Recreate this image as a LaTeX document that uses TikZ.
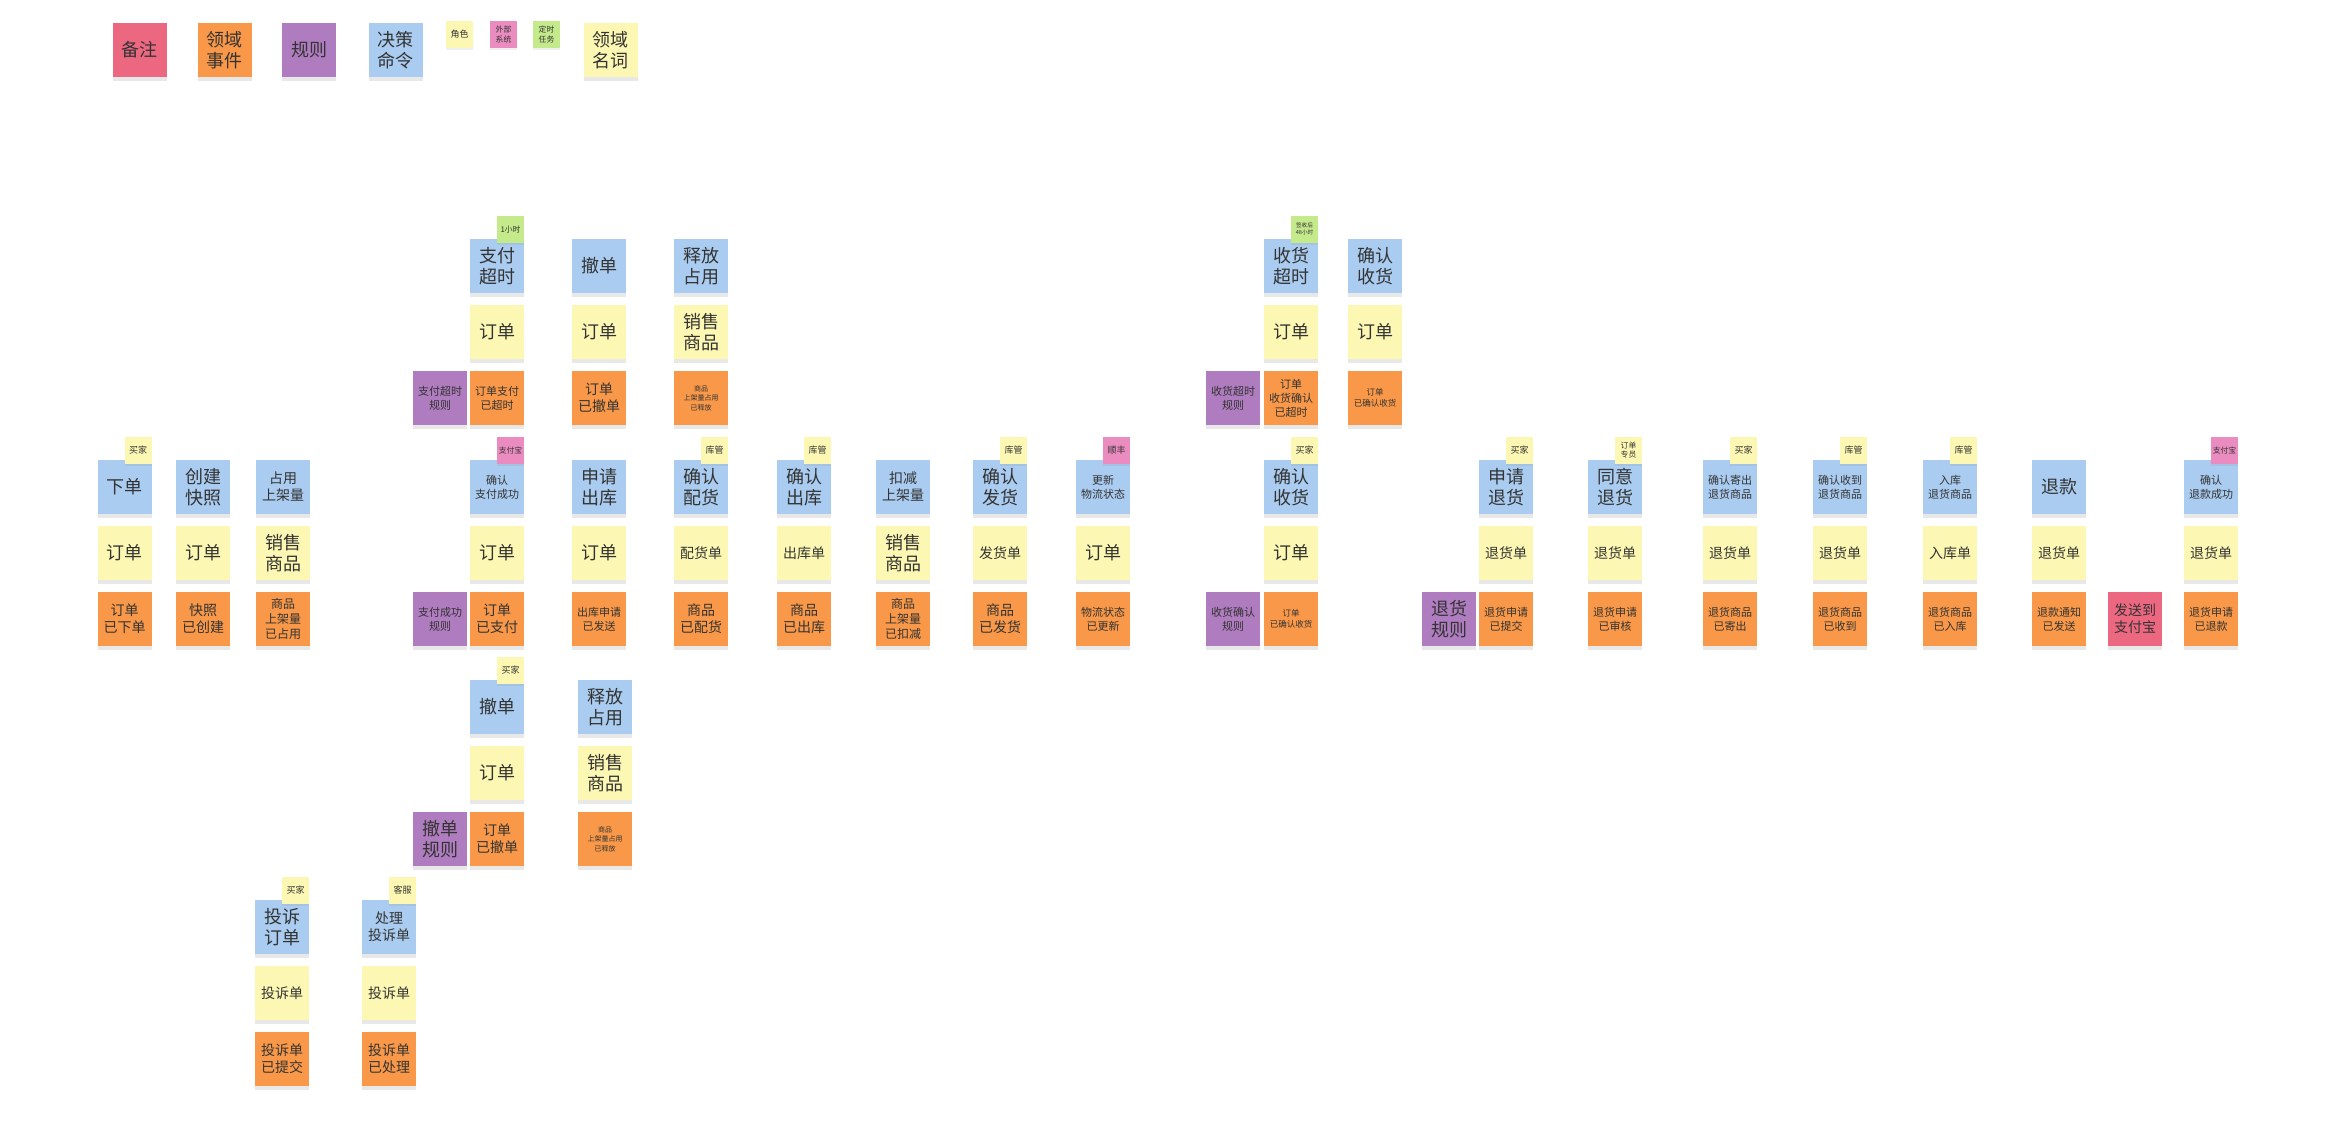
\documentclass[tikz,border=0pt]{standalone}
\usepackage{fontspec}
\setmainfont{Noto Sans CJK SC}
\usetikzlibrary{shadows}
\definecolor{cmdblue}{RGB}{170,204,240}
\definecolor{nounyellow}{RGB}{252,247,178}
\definecolor{evtorange}{RGB}{248,152,72}
\definecolor{rulepurple}{RGB}{176,124,192}
\definecolor{remarkpink}{RGB}{236,104,128}
\definecolor{syspink}{RGB}{234,140,192}
\definecolor{timegreen}{RGB}{196,234,140}
\begin{document}
\begin{tikzpicture}[x=1pt,y=-1pt,
  sticky/.style={minimum width=54pt,minimum height=54pt,inner sep=0pt,align=center,text=black!80,
    font=\fontsize{18}{21}\selectfont,drop shadow={shadow xshift=0pt,shadow yshift=-4pt,opacity=0.18}},
  cmdnote/.style={sticky,fill=cmdblue},
  nounnote/.style={sticky,fill=nounyellow},
  evtnote/.style={sticky,fill=evtorange},
  rulenote/.style={sticky,fill=rulepurple},
  remnote/.style={sticky,fill=remarkpink},
  tagnote/.style={minimum width=27pt,minimum height=27pt,inner sep=0pt,align=center,text=black!80,
    font=\fontsize{9}{10.5}\selectfont,drop shadow={shadow xshift=0pt,shadow yshift=-2pt,opacity=0.12}},
  roletag/.style={tagnote,fill=nounyellow,anchor=south east},
  systag/.style={tagnote,fill=syspink,anchor=south east},
  timetag/.style={tagnote,fill=timegreen,anchor=south east},
  fmid/.style={font=\fontsize{14}{17}\selectfont},
  fthree/.style={font=\fontsize{12}{15}\selectfont},
  fsm/.style={font=\fontsize{11}{14}\selectfont},
  fxs/.style={font=\fontsize{8.5}{11}\selectfont},
  fxxs/.style={font=\fontsize{7}{9.5}\selectfont},
  ftagsm/.style={font=\fontsize{7.8}{9.5}\selectfont},
  ftagxs/.style={font=\fontsize{5.6}{7}\selectfont}]
\fill[white] (0,0) rectangle (2330,1148);
\useasboundingbox (0,0) rectangle (2330,1148);

\node[remnote] (lgremark) at (139.5,50) {备注};
\node[evtnote] (lgevent) at (224.5,50) {领域\\事件};
\node[rulenote] (lgrule) at (309,50) {规则};
\node[cmdnote] (lgcmd) at (395.5,50) {决策\\命令};
\node[roletag,anchor=center] (lgrole) at (459.5,34.5) {角色};
\node[systag,ftagsm,anchor=center] (lgsys) at (503.5,34.5) {外部\\系统};
\node[timetag,ftagsm,anchor=center] (lgtimer) at (546.5,34.5) {定时\\任务};
\node[nounnote] (lgnoun) at (610.5,50) {领域\\名词};

\node[cmdnote] (cPayTimeout) at (497,266) {支付\\超时};
\node[nounnote] (nPayTimeout) at (497,332) {订单};
\node[evtnote,fsm] (ePayTimeout) at (497,398) {订单支付\\已超时};
\node[rulenote,fsm] (rPayTimeout) at (440,398) {支付超时\\规则};
\node[cmdnote] (cCancel) at (599,266) {撤单};
\node[nounnote] (nCancel) at (599,332) {订单};
\node[evtnote,fmid] (eCancel) at (599,398) {订单\\已撤单};
\node[cmdnote] (cRelease) at (701,266) {释放\\占用};
\node[nounnote] (nRelease) at (701,332) {销售\\商品};
\node[evtnote,fxxs] (eRelease) at (701,398) {商品\\上架量占用\\已释放};
\node[cmdnote] (cRecvTimeout) at (1291,266) {收货\\超时};
\node[nounnote] (nRecvTimeout) at (1291,332) {订单};
\node[evtnote,fsm] (eRecvTimeout) at (1291,398) {订单\\收货确认\\已超时};
\node[rulenote,fsm] (rRecvTimeout) at (1233,398) {收货超时\\规则};
\node[cmdnote] (cConfirmA) at (1375,266) {确认\\收货};
\node[nounnote] (nConfirmA) at (1375,332) {订单};
\node[evtnote,fxs] (eConfirmA) at (1375,398) {订单\\已确认收货};

\node[cmdnote] (cPlace) at (124.5,487) {下单};
\node[nounnote] (nPlace) at (124.5,553) {订单};
\node[evtnote,fmid] (ePlace) at (124.5,619) {订单\\已下单};
\node[cmdnote] (cSnapshot) at (203,487) {创建\\快照};
\node[nounnote] (nSnapshot) at (203,553) {订单};
\node[evtnote,fmid] (eSnapshot) at (203,619) {快照\\已创建};
\node[cmdnote,fmid] (cOccupy) at (283,487) {占用\\上架量};
\node[nounnote] (nOccupy) at (283,553) {销售\\商品};
\node[evtnote,fthree] (eOccupy) at (283,619) {商品\\上架量\\已占用};
\node[cmdnote,fsm] (cPaid) at (497,487) {确认\\支付成功};
\node[nounnote] (nPaid) at (497,553) {订单};
\node[evtnote,fmid] (ePaid) at (497,619) {订单\\已支付};
\node[rulenote,fsm] (rPaid) at (440,619) {支付成功\\规则};
\node[cmdnote] (cOutApply) at (599,487) {申请\\出库};
\node[nounnote] (nOutApply) at (599,553) {订单};
\node[evtnote,fsm] (eOutApply) at (599,619) {出库申请\\已发送};
\node[cmdnote] (cPick) at (701,487) {确认\\配货};
\node[nounnote,fmid] (nPick) at (701,553) {配货单};
\node[evtnote,fmid] (ePick) at (701,619) {商品\\已配货};
\node[cmdnote] (cOut) at (804,487) {确认\\出库};
\node[nounnote,fmid] (nOut) at (804,553) {出库单};
\node[evtnote,fmid] (eOut) at (804,619) {商品\\已出库};
\node[cmdnote,fmid] (cDeduct) at (903,487) {扣减\\上架量};
\node[nounnote] (nDeduct) at (903,553) {销售\\商品};
\node[evtnote,fthree] (eDeduct) at (903,619) {商品\\上架量\\已扣减};
\node[cmdnote] (cShip) at (1000,487) {确认\\发货};
\node[nounnote,fmid] (nShip) at (1000,553) {发货单};
\node[evtnote,fmid] (eShip) at (1000,619) {商品\\已发货};
\node[cmdnote,fsm] (cTrack) at (1103,487) {更新\\物流状态};
\node[nounnote] (nTrack) at (1103,553) {订单};
\node[evtnote,fsm] (eTrack) at (1103,619) {物流状态\\已更新};
\node[cmdnote] (cConfirmB) at (1291,487) {确认\\收货};
\node[nounnote] (nConfirmB) at (1291,553) {订单};
\node[evtnote,fxs] (eConfirmB) at (1291,619) {订单\\已确认收货};
\node[rulenote,fsm] (rConfirmB) at (1233,619) {收货确认\\规则};
\node[cmdnote] (cReturn) at (1506,487) {申请\\退货};
\node[nounnote,fmid] (nReturn) at (1506,553) {退货单};
\node[evtnote,fsm] (eReturn) at (1506,619) {退货申请\\已提交};
\node[rulenote] (rReturn) at (1449,619) {退货\\规则};
\node[cmdnote] (cAgree) at (1615,487) {同意\\退货};
\node[nounnote,fmid] (nAgree) at (1615,553) {退货单};
\node[evtnote,fsm] (eAgree) at (1615,619) {退货申请\\已审核};
\node[cmdnote,fsm] (cSendBack) at (1730,487) {确认寄出\\退货商品};
\node[nounnote,fmid] (nSendBack) at (1730,553) {退货单};
\node[evtnote,fsm] (eSendBack) at (1730,619) {退货商品\\已寄出};
\node[cmdnote,fsm] (cReceiveBack) at (1840,487) {确认收到\\退货商品};
\node[nounnote,fmid] (nReceiveBack) at (1840,553) {退货单};
\node[evtnote,fsm] (eReceiveBack) at (1840,619) {退货商品\\已收到};
\node[cmdnote,fsm] (cStock) at (1950,487) {入库\\退货商品};
\node[nounnote,fmid] (nStock) at (1950,553) {入库单};
\node[evtnote,fsm] (eStock) at (1950,619) {退货商品\\已入库};
\node[cmdnote] (cRefund) at (2059,487) {退款};
\node[nounnote,fmid] (nRefund) at (2059,553) {退货单};
\node[evtnote,fsm] (eRefund) at (2059,619) {退款通知\\已发送};
\node[remnote,fmid] (mAlipay) at (2135,619) {发送到\\支付宝};
\node[cmdnote,fsm] (cRefundOk) at (2211,487) {确认\\退款成功};
\node[nounnote,fmid] (nRefundOk) at (2211,553) {退货单};
\node[evtnote,fsm] (eRefundOk) at (2211,619) {退货申请\\已退款};

\node[cmdnote] (cCancelB) at (497,707) {撤单};
\node[nounnote] (nCancelB) at (497,773) {订单};
\node[evtnote,fmid] (eCancelB) at (497,839) {订单\\已撤单};
\node[rulenote] (rCancelB) at (440,839) {撤单\\规则};
\node[cmdnote] (cReleaseB) at (605,707) {释放\\占用};
\node[nounnote] (nReleaseB) at (605,773) {销售\\商品};
\node[evtnote,fxxs] (eReleaseB) at (605,839) {商品\\上架量占用\\已释放};

\node[cmdnote] (cComplain) at (282,927) {投诉\\订单};
\node[nounnote,fmid] (nComplain) at (282,993) {投诉单};
\node[evtnote,fmid] (eComplain) at (282,1059) {投诉单\\已提交};
\node[cmdnote,fmid] (cHandle) at (389,927) {处理\\投诉单};
\node[nounnote,fmid] (nHandle) at (389,993) {投诉单};
\node[evtnote,fmid] (eHandle) at (389,1059) {投诉单\\已处理};

\node[timetag,ftagsm] (tPayTimeout) at ([yshift=-4pt]cPayTimeout.north east) {1小时};
\node[timetag,ftagxs] (tRecvTimeout) at ([yshift=-4pt]cRecvTimeout.north east) {签收后\\48小时};
\node[roletag] (tPlace) at ([yshift=-4pt]cPlace.north east) {买家};
\node[systag,ftagsm] (tPaid) at ([yshift=-4pt]cPaid.north east) {支付宝};
\node[roletag] (tPick) at ([yshift=-4pt]cPick.north east) {库管};
\node[roletag] (tOut) at ([yshift=-4pt]cOut.north east) {库管};
\node[roletag] (tShip) at ([yshift=-4pt]cShip.north east) {库管};
\node[systag] (tTrack) at ([yshift=-4pt]cTrack.north east) {顺丰};
\node[roletag] (tConfirmB) at ([yshift=-4pt]cConfirmB.north east) {买家};
\node[roletag] (tReturn) at ([yshift=-4pt]cReturn.north east) {买家};
\node[roletag,ftagsm] (tAgree) at ([yshift=-4pt]cAgree.north east) {订单\\专员};
\node[roletag] (tSendBack) at ([yshift=-4pt]cSendBack.north east) {买家};
\node[roletag] (tReceiveBack) at ([yshift=-4pt]cReceiveBack.north east) {库管};
\node[roletag] (tStock) at ([yshift=-4pt]cStock.north east) {库管};
\node[systag,ftagsm] (tRefundOk) at ([yshift=-4pt]cRefundOk.north east) {支付宝};
\node[roletag] (tCancelB) at ([yshift=-4pt]cCancelB.north east) {买家};
\node[roletag] (tComplain) at ([yshift=-4pt]cComplain.north east) {买家};
\node[roletag] (tHandle) at ([yshift=-4pt]cHandle.north east) {客服};
\end{tikzpicture}
\end{document}
